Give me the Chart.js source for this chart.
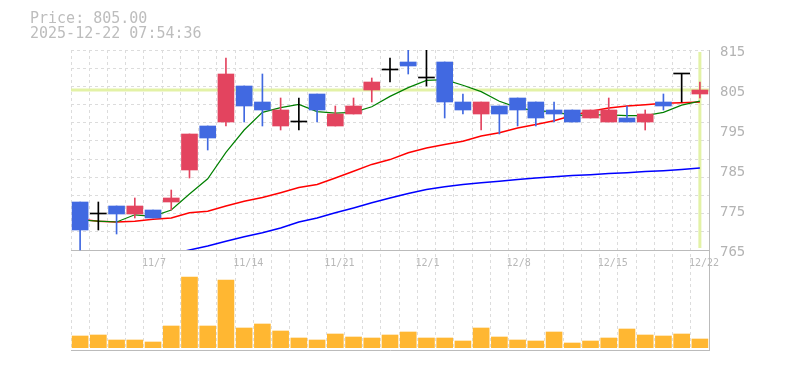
<!DOCTYPE html>
<html lang="ja">
<head>
<meta charset="UTF-8">
<title>Price Chart</title>
<style>
  body { margin: 0; background: #fff; }
  canvas { display: block; }
</style>
</head>
<body>
<canvas id="chart" width="785" height="370"></canvas>
<script src="https://cdn.jsdelivr.net/npm/chart.js@4"></script>
<script>
// trading days shown (one candle each)
const dates = ['10/31', '11/4', '11/5', '11/6', '11/7', '11/10', '11/11', '11/12', '11/13', '11/14',
  '11/17', '11/18', '11/19', '11/20', '11/21', '11/25', '11/26', '11/27', '11/28', '12/1',
  '12/2', '12/3', '12/4', '12/5', '12/8', '12/9', '12/10', '12/11', '12/12', '12/15',
  '12/16', '12/17', '12/18', '12/19', '12/22'];

const opens  = [777, 774, 776, 774, 775, 777, 785, 796, 797, 806, 802, 796, 797, 804, 796, 799, 805, 810, 812, 808,
  812, 802, 799, 801, 803, 802, 800, 800, 798, 797, 798, 797, 802, 809, 804];
const highs  = [777, 777, 776, 778, 775, 780, 794, 796, 813, 806, 809, 803, 803, 804, 801, 803, 808, 813, 815, 815,
  812, 804, 802, 801, 803, 802, 802, 800, 800, 803, 801, 800, 804, 809, 807];
const lows   = [765, 770, 769, 773, 773, 775, 783, 790, 796, 797, 796, 795, 795, 797, 796, 799, 802, 807, 809, 806,
  798, 799, 795, 794, 796, 796, 797, 797, 798, 797, 797, 795, 800, 802, 803];
const closes = [770, 774, 774, 776, 773, 778, 794, 793, 809, 801, 800, 800, 797, 800, 799, 801, 807, 810, 811, 808,
  802, 800, 802, 799, 800, 798, 799, 797, 800, 800, 797, 799, 801, 809, 805];

// moving averages (short / middle / long)
const maShort = [772.5, 772.2, 772.0, 773.8, 773.4, 775.0, 779.0, 782.8, 789.4, 795.0, 799.4, 800.6, 801.4, 799.6, 799.2,
  799.4, 800.8, 803.4, 805.6, 807.4, 807.6, 806.2, 804.6, 802.2, 800.6, 799.8, 799.6, 798.6, 798.8, 798.8,
  798.6, 798.6, 799.4, 801.2, 802.2];
const maMid = [772.7, 772.2, 772.0, 772.2, 772.7, 773.0, 774.3, 774.7, 776.0, 777.2, 778.1, 779.3, 780.6, 781.4, 783.0,
  784.7, 786.4, 787.6, 789.3, 790.5, 791.4, 792.2, 793.5, 794.3, 795.5, 796.4, 797.3, 798.6, 799.7, 800.5,
  801.0, 801.3, 801.7, 801.8, 802.0];
const maLong = [null, null, null, null, null, 764.0, 765.0, 766.0, 767.2, 768.3, 769.3, 770.5, 772.0, 773.0, 774.3,
  775.5, 776.8, 778.0, 779.1, 780.1, 780.8, 781.4, 781.8, 782.2, 782.6, 783.0, 783.3, 783.6, 783.8, 784.1,
  784.3, 784.6, 784.8, 785.1, 785.5];

// volume (hundreds of shares)
const volumes = [117, 127, 77, 77, 57, 217, 707, 217, 677, 197, 237, 167, 97, 77, 137, 107, 97, 127, 157, 97,
  97, 67, 197, 107, 77, 67, 157, 47, 67, 97, 187, 127, 117, 137, 87];

const priceTicks = [765, 775, 785, 795, 805, 815];
const stamp = '2025-12-22 07:54:36';

const UP = '#e3445f', DOWN = '#4169e1', DOJI = '#000000';
const candleColors = opens.map((o, i) => closes[i] > o ? UP : (closes[i] < o ? DOWN : DOJI));
const lastIdx = closes.length - 1;
const lastPrice = closes[lastIdx];
const mono = '"DejaVu Sans Mono", monospace';

const headerText = {
  id: 'headerText',
  afterDraw(chart) {
    const ctx = chart.ctx;
    ctx.save();
    ctx.font = '15px ' + mono;
    ctx.fillStyle = '#bdbdbd';
    ctx.textBaseline = 'alphabetic';
    ctx.fillText('Price: ' + lastPrice.toFixed(2), 30, 23);
    ctx.fillText(stamp, 30, 38);
    ctx.restore();
  }
};

// current price line, last-day marker and price/volume separator
const priceMarks = {
  id: 'priceMarks',
  beforeDatasetsDraw(chart) {
    const { ctx, chartArea, scales } = chart;
    const y = scales.y;
    const py = y.getPixelForValue(lastPrice);
    const px = scales.x.getPixelForValue(lastIdx);
    const top = y.getPixelForValue(priceTicks[priceTicks.length - 1]);
    const sep = y.getPixelForValue(priceTicks[0]);
    ctx.save();
    ctx.strokeStyle = '#e3f2a6';
    ctx.lineWidth = 3;
    ctx.beginPath();
    ctx.moveTo(chartArea.left, py);
    ctx.lineTo(chartArea.right, py);
    ctx.moveTo(px, top + 2);
    ctx.lineTo(px, sep - 2);
    ctx.stroke();
    ctx.strokeStyle = '#bbbbbb';
    ctx.lineWidth = 1;
    ctx.beginPath();
    ctx.moveTo(chartArea.left, Math.floor(sep) + 0.5);
    ctx.lineTo(chartArea.right, Math.floor(sep) + 0.5);
    ctx.stroke();
    ctx.restore();
  }
};

// date labels every 5 sessions, counted back from the last one
const dateLabels = {
  id: 'dateLabels',
  afterDraw(chart) {
    const { ctx, scales } = chart;
    const sep = scales.y.getPixelForValue(priceTicks[0]);
    ctx.save();
    ctx.font = '10px ' + mono;
    ctx.fillStyle = '#b8b8b8';
    ctx.textBaseline = 'alphabetic';
    dates.forEach((d, i) => {
      if ((dates.length - 1 - i) % 5 !== 0) return;
      ctx.fillText(d, scales.x.getPixelForValue(i) - 11, sep + 16);
    });
    ctx.restore();
  }
};

const priceClip = { left: 0, top: 0, right: 0, bottom: -100 };

new Chart(document.getElementById('chart'), {
  type: 'bar',
  data: {
    labels: dates,
    datasets: [
      {
        label: 'body',
        data: opens.map((o, i) => [o, closes[i]]),
        backgroundColor: candleColors,
        barThickness: 16,
        minBarLength: 1,
        grouped: false,
        yAxisID: 'y',
        order: 1
      },
      {
        label: 'wick',
        data: lows.map((l, i) => [l, highs[i]]),
        backgroundColor: candleColors,
        barThickness: 1,
        grouped: false,
        yAxisID: 'y',
        order: 2
      },
      {
        type: 'line',
        label: 'MA short',
        data: maShort,
        borderColor: '#008000',
        borderWidth: 1.2,
        pointRadius: 0,
        yAxisID: 'y',
        clip: priceClip,
        order: 3
      },
      {
        type: 'line',
        label: 'MA mid',
        data: maMid,
        borderColor: '#ff0000',
        borderWidth: 1.5,
        pointRadius: 0,
        yAxisID: 'y',
        clip: priceClip,
        order: 4
      },
      {
        type: 'line',
        label: 'MA long',
        data: maLong,
        borderColor: '#0000ff',
        borderWidth: 1.5,
        pointRadius: 0,
        yAxisID: 'y',
        clip: priceClip,
        order: 5
      },
      {
        label: 'volume',
        data: volumes,
        backgroundColor: '#ffb732',
        barThickness: 16,
        grouped: false,
        yAxisID: 'yv',
        order: 6
      }
    ]
  },
  options: {
    responsive: false,
    animation: false,
    layout: { padding: { left: 71, top: 50, right: 0, bottom: 20 } },
    plugins: {
      legend: { display: false },
      tooltip: { enabled: false }
    },
    scales: {
      x: {
        offset: true,
        ticks: { display: false },
        grid: { color: '#dcdcdc', offset: true, drawTicks: false },
        border: { color: '#bbbbbb', dash: [3, 3] },
        afterFit: s => { s.height = 0; }
      },
      y: {
        position: 'right',
        min: 740,
        max: 815,
        afterBuildTicks: s => { s.ticks = priceTicks.map(v => ({ value: v })); },
        afterFit: s => { s.width = 76; },
        grid: { display: false, drawTicks: false },
        border: { display: true, color: '#bbbbbb' },
        ticks: {
          color: '#b3b3b3',
          font: { family: mono, size: 14 },
          padding: 11,
          labelOffset: 2
        }
      },
      yv: {
        display: false,
        min: -23,
        max: 2977
      },
      yg: {
        position: 'left',
        min: -5.5,
        max: 11,
        afterBuildTicks: s => {
          const t = [];
          for (let v = 0; v <= 11; v++) t.push({ value: v });
          s.ticks = t;
        },
        afterFit: s => { s.width = 0; },
        ticks: { display: false },
        grid: { color: '#dcdcdc', drawTicks: false },
        border: { display: false, dash: [3, 3] }
      }
    }
  },
  plugins: [priceMarks, dateLabels, headerText]
});
</script>
</body>
</html>
